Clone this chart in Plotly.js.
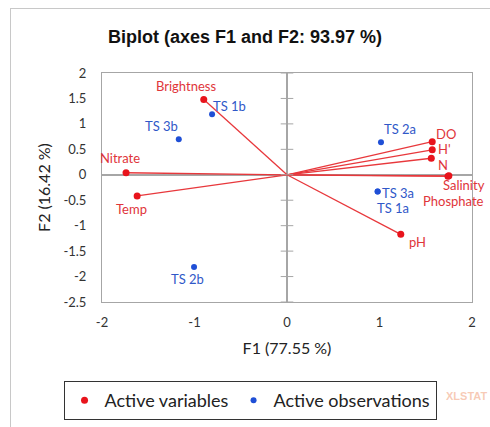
<!DOCTYPE html>
<html><head><meta charset="utf-8">
<script src="https://cdn.plot.ly/plotly-3.0.1.min.js"></script>
<style>body{margin:0;background:#fff}#wrap{position:relative;width:490px;height:427px}
#frame{position:absolute;left:10px;top:8px;width:490px;height:430px;border:1px solid #c8c8c8;pointer-events:none}</style>
</head><body><div id="wrap"><div id="chart" style="width:490px;height:427px"></div><div id="frame"></div></div>
<script>
// Active variables (loadings)
const varNames = ["Brightness","Nitrate","Temp","DO","H'","N","Salinity","Phosphate","pH"];
const varF1 = [-0.90,-1.74,-1.62,1.57,1.57,1.56,1.75,1.74,1.23];
const varF2 = [1.48,0.04,-0.415,0.65,0.49,0.325,-0.02,-0.03,-1.17];
// Active observations
const obsNames = ["TS 1b","TS 3b","TS 2a","TS 3a","TS 1a","TS 2b"];
const obsF1 = [-0.81,-1.17,1.016,0.98,0.98,-1.005];
const obsF2 = [1.19,0.70,0.64,-0.33,-0.33,-1.81];
// Axis ticks
const xTicks = [-2,-1,0,1,2];
const yTicks = [-2.5,-2,-1.5,-1,-0.5,0,0.5,1,1.5,2];

// label offsets (pixels)
const varOff = [[-18,-13],[-6,-15],[-6,13],[14,-8],[12,-1],[12,7],[15,9],[6,25],[17,8]];
const obsOff = [[17,-8],[-17,-13],[19,-13],[20,1],[15,16],[-7,12]];

const red = '#e8141c', redTxt = '#e0353a', blue = '#1f4fd6', blueTxt = '#3058c8';

const lx = [], ly = [];
varF1.forEach((v,i)=>{ lx.push(0, v, null); ly.push(0, varF2[i], null); });

const traces = [
  {x: lx, y: ly, mode:'lines', line:{color:'#e8383c', width:1.3}, showlegend:false, hoverinfo:'skip'},
  {x: yTicks.map(()=>0), y: yTicks, mode:'markers', marker:{symbol:'line-ew-open', size:9, color:'#a6a6a6', line:{color:'#a6a6a6', width:1}}, showlegend:false, hoverinfo:'skip'},
  {x: varF1, y: varF2, mode:'markers', name:'Active variables', marker:{color:red, size:7}},
  {x: obsF1, y: obsF2, mode:'markers', name:'Active observations', marker:{color:blue, size:6}}
];

const lblFont = 'Lato, "Open Sans", sans-serif';
const ann = [];
varNames.forEach((n,i)=>ann.push({x:varF1[i], y:varF2[i], text:n, showarrow:false, xshift:varOff[i][0], yshift:-varOff[i][1], font:{family:lblFont, size:13, color:redTxt}}));
obsNames.forEach((n,i)=>ann.push({x:obsF1[i], y:obsF2[i], text:n, showarrow:false, xshift:obsOff[i][0], yshift:-obsOff[i][1], font:{family:lblFont, size:13, color:blueTxt}}));
ann.push({xref:'paper', yref:'paper', x:1.045, y:-0.445, xanchor:'right', text:'<b>XLSTAT</b>', showarrow:false, font:{family:'Liberation Sans, Arial', size:11, color:'rgba(240,150,110,0.5)'}});

const layout = {
  width:490, height:427,
  margin:{l:102, r:18, t:73, b:125, autoexpand:false},
  paper_bgcolor:'#fff', plot_bgcolor:'#fff',
  title:{text:'<b>Biplot (axes F1 and F2: 93.97 %)</b>', x:0.5, xanchor:'center', y:0.913, yanchor:'middle', font:{family:'Liberation Sans, Arial', size:18, color:'#111'}},
  xaxis:{range:[-2,2], tickvals:xTicks, ticktext:xTicks.map(String), showgrid:false, zeroline:true, zerolinecolor:'#a6a6a6', zerolinewidth:1.5,
    showline:true, mirror:true, linecolor:'#a6a6a6', linewidth:1, ticks:'', ticklabelstandoff:8, tickfont:{family:lblFont, size:13, color:'#333'},
    title:{text:'F1 (77.55 %)', font:{family:lblFont, size:16, color:'#222'}, standoff:14}},
  yaxis:{range:[-2.5,2], tickvals:yTicks, ticktext:yTicks.map(String), showgrid:false, zeroline:true, zerolinecolor:'#a6a6a6', zerolinewidth:1.5,
    showline:true, mirror:true, linecolor:'#a6a6a6', linewidth:1, ticks:'', ticklabelstandoff:12, tickfont:{family:lblFont, size:13, color:'#333'},
    title:{text:'F2 (16.42 %)', font:{family:lblFont, size:16, color:'#222'}, standoff:8}},
  legend:{orientation:'h', x:-0.104, y:-0.345, xanchor:'left', yanchor:'top', bordercolor:'#333', borderwidth:1,
    font:{family:lblFont, size:18, color:'#222'}, itemwidth:30, tracegroupgap:0},
  annotations: ann,
  showlegend:true
};
Plotly.newPlot('chart', traces, layout, {displayModeBar:false, staticPlot:true});
</script></body></html>
